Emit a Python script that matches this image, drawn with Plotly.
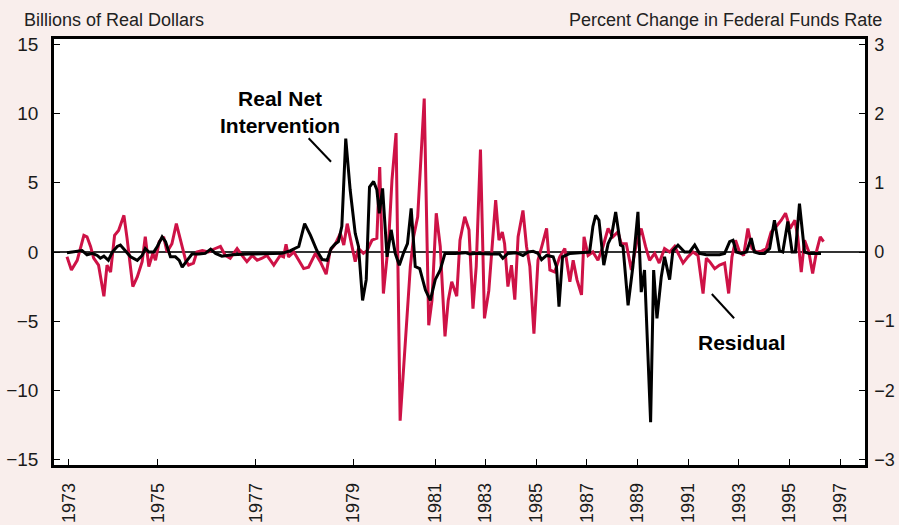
import numpy as np
import plotly.graph_objects as go

# ---------------- data ----------------
# Real Net Intervention (billions of real dollars), decimal year
int_year = [1972.96, 1973.30, 1973.41, 1973.53, 1973.64, 1973.71, 1973.79, 1973.89, 1973.98, 1974.09,
            1974.16, 1974.27, 1974.39, 1974.54, 1974.65, 1974.72, 1974.80, 1974.91, 1974.99, 1975.09,
            1975.16, 1975.26, 1975.36, 1975.44, 1975.50, 1975.60, 1975.70, 1975.84, 1975.97, 1976.08,
            1976.18, 1976.31, 1976.52, 1976.86, 1977.20, 1977.54, 1977.71, 1977.81, 1977.88, 1978.00,
            1978.12, 1978.25, 1978.36, 1978.46, 1978.54, 1978.63, 1978.69, 1978.76, 1978.84, 1978.93,
            1979.04, 1979.12, 1979.22, 1979.31, 1979.39, 1979.49, 1979.57, 1979.63, 1979.71, 1979.82,
            1979.92, 1980.02, 1980.12, 1980.22, 1980.32, 1980.41, 1980.51, 1980.62, 1980.76, 1980.88,
            1981.00, 1981.20, 1981.39, 1981.80, 1982.20, 1982.38, 1982.70, 1983.17, 1983.56, 1983.69,
            1983.89, 1984.22, 1984.48, 1984.68, 1984.88, 1985.07, 1985.21, 1985.41, 1985.67, 1985.80,
            1985.90, 1986.04, 1986.33, 1986.72, 1987.11, 1987.24, 1987.35, 1987.48, 1987.67, 1987.84,
            1987.97, 1988.14, 1988.33, 1988.43, 1988.63, 1988.82, 1989.02, 1989.15, 1989.28, 1989.52,
            1989.64, 1989.77, 1989.94, 1990.07, 1990.27, 1990.40, 1990.60, 1990.86, 1991.06, 1991.26,
            1991.45, 1991.72, 1991.98, 1992.24, 1992.44, 1992.64, 1992.77, 1992.90, 1993.10, 1993.30,
            1993.49, 1993.62, 1993.82, 1994.02, 1994.22, 1994.41, 1994.61, 1994.74, 1994.94, 1995.11,
            1995.24, 1995.40, 1995.60, 1995.79, 1996.25]
int_value = [-0.05, 0.1, -0.2, -0.1, -0.25, -0.45, -0.3, -0.6, 0.0, 0.4,
             0.5, 0.1, -0.35, -0.6, -0.25, 0.25, 0.0, 0.0, 0.4, 1.1,
             0.75, -0.35, -0.35, -0.6, -1.1, -0.6, -0.15, -0.15, -0.1, 0.2,
             -0.1, -0.3, -0.2, -0.15, -0.15, -0.1, 0.1, 0.25, 0.4, 2.05,
             1.2, 0.1, -0.55, -0.6, 0.25, 0.6, 0.75, 1.85, 8.2, 4.5,
             1.35, 0.4, -3.5, -2.0, 4.7, 5.1, 4.5, 2.8, 4.6, -0.35,
             1.6, -0.1, -0.95, -0.1, 0.6, 3.15, -1.05, -1.2, -2.75, -3.5,
             -2.0, -1.3, -0.1, -0.1, -0.05, -0.15, -0.1, -0.15, -0.15, -0.45,
             -0.1, -0.05, -0.25, 0.0, 0.05, -0.1, -0.55, -0.25, -0.35, -1.05,
             -3.95, -0.35, -0.1, -0.05, 0.0, 1.85, 2.65, 2.3, -0.95, 0.6,
             1.1, 2.9, 0.5, 0.4, -3.85, -1.05, 2.9, -2.9, -1.3, -12.3,
             -1.3, -4.8, -1.8, -0.35, -2.0, 0.1, 0.5, 0.0, 0.0, 0.5,
             -0.1, -0.2, -0.2, -0.2, -0.1, 0.75, 0.85, 0.0, -0.1, 0.0,
             1.0, 0.0, -0.1, -0.1, 0.25, 2.3, 0.1, 0.0, 2.2, 0.0,
             0.0, 3.5, 0.0, -0.1, -0.1]

# Residual (percent change in federal funds rate), decimal year
res_year = [1972.96, 1973.06, 1973.19, 1973.34, 1973.41, 1973.49, 1973.56, 1973.67, 1973.79, 1973.86,
            1973.94, 1974.03, 1974.12, 1974.24, 1974.31, 1974.44, 1974.54, 1974.65, 1974.72, 1974.80,
            1974.89, 1974.95, 1975.03, 1975.12, 1975.19, 1975.29, 1975.38, 1975.46, 1975.57, 1975.63,
            1975.73, 1975.80, 1975.91, 1976.04, 1976.14, 1976.28, 1976.38, 1976.48, 1976.62, 1976.72,
            1976.82, 1976.93, 1977.03, 1977.13, 1977.23, 1977.37, 1977.50, 1977.57, 1977.62, 1977.67,
            1977.78, 1977.88, 1977.98, 1978.08, 1978.22, 1978.32, 1978.44, 1978.52, 1978.63, 1978.73,
            1978.80, 1978.87, 1978.93, 1979.04, 1979.12, 1979.24, 1979.33, 1979.45, 1979.57, 1979.64,
            1979.73, 1979.86, 1979.94, 1980.04, 1980.14, 1980.27, 1980.39, 1980.47, 1980.57, 1980.73,
            1980.84, 1980.92, 1981.04, 1981.20, 1981.39, 1981.52, 1981.66, 1981.86, 1981.99, 1982.18,
            1982.35, 1982.51, 1982.64, 1982.81, 1982.97, 1983.14, 1983.41, 1983.54, 1983.67, 1983.76,
            1983.89, 1984.03, 1984.16, 1984.29, 1984.48, 1984.62, 1984.75, 1984.91, 1985.07, 1985.25,
            1985.41, 1985.54, 1985.73, 1985.93, 1986.13, 1986.20, 1986.33, 1986.46, 1986.61, 1986.79,
            1986.89, 1987.05, 1987.24, 1987.44, 1987.64, 1987.84, 1988.03, 1988.23, 1988.36, 1988.56,
            1988.76, 1988.96, 1989.15, 1989.32, 1989.48, 1989.68, 1989.86, 1990.07, 1990.27, 1990.47,
            1990.66, 1990.80, 1990.99, 1991.19, 1991.39, 1991.59, 1991.72, 1991.85, 1992.05, 1992.24,
            1992.44, 1992.60, 1992.73, 1992.87, 1993.03, 1993.19, 1993.36, 1993.52, 1993.69, 1993.89,
            1994.09, 1994.28, 1994.48, 1994.68, 1994.85, 1995.03, 1995.22, 1995.33, 1995.47, 1995.60,
            1995.77, 1995.92, 1996.08, 1996.22, 1996.35]
res_value = [-0.07, -0.26, -0.12, 0.24, 0.22, 0.08, -0.09, -0.19, -0.64, -0.19,
             -0.29, 0.24, 0.31, 0.53, 0.20, -0.50, -0.36, -0.14, 0.22, -0.21,
             -0.02, -0.12, 0.15, 0.22, 0.0, 0.12, 0.41, 0.17, -0.12, -0.19,
             -0.16, 0.0, 0.02, 0.0, 0.04, 0.08, -0.05, -0.09, 0.05, -0.05,
             -0.14, -0.05, -0.12, -0.09, -0.05, -0.19, -0.05, -0.07, 0.11, -0.07,
             0.0, -0.12, -0.24, -0.22, -0.02, -0.14, -0.32, 0.02, 0.12, 0.27,
             0.10, 0.41, 0.22, -0.14, 0.05, -0.02, 0.02, 0.17, 0.20, 1.23,
             -0.60, 0.17, 1.04, 1.72, -2.44, -1.28, -0.21, 0.22, 0.51, 2.22,
             -1.06, -0.70, 0.56, 0.08, -1.22, -0.70, -0.43, -0.64, 0.17, 0.51,
             0.32, -0.82, -0.21, 1.48, -0.96, -0.56, 0.75, 0.17, 0.29, 0.12,
             -0.50, -0.19, -0.69, 0.22, 0.60, 0.08, -0.21, -1.18, -0.12, 0.12,
             0.34, -0.26, -0.29, -0.07, 0.05, -0.12, -0.43, -0.12, -0.40, -0.62,
             0.22, -0.05, 0.0, -0.12, 0.08, 0.34, 0.22, 0.29, 0.12, 0.12,
             -0.26, 0.12, 0.34, 0.08, -0.12, -0.02, -0.16, 0.05, 0.0, 0.08,
             -0.05, -0.16, -0.07, 0.0, -0.05, -0.60, -0.09, -0.14, -0.24, -0.19,
             -0.16, -0.60, -0.07, 0.17, 0.0, -0.05, 0.34, 0.05, 0.0, 0.01,
             0.05, 0.29, 0.37, 0.46, 0.56, 0.34, 0.46, 0.22, -0.29, 0.17,
             0.0, -0.31, 0.02, 0.22, 0.15]

# x-axis: year labels and where the original chart puts them along the axis (fraction of width)
tick_years = [1973, 1975, 1977, 1979, 1981, 1983, 1985, 1987, 1989, 1991, 1993, 1995, 1997]
tick_frac = [0.0182, 0.1279, 0.2487, 0.3694, 0.4701, 0.5317, 0.5946, 0.6570, 0.7194,
             0.7819, 0.8444, 0.9067, 0.9692]

left_ticks = [-15, -10, -5, 0, 5, 10, 15]
right_ticks = [-3, -2, -1, 0, 1, 2, 3]


def year_to_axis(years):
    ty = np.array(tick_years, dtype=float)
    tf = np.array(tick_frac, dtype=float)
    y = np.asarray(years, dtype=float)
    out = np.interp(y, ty, tf)
    lo = y < ty[0]
    out[lo] = tf[0] + (y[lo] - ty[0]) * (tf[1] - tf[0]) / (ty[1] - ty[0])
    return out


def lab(v):
    return str(v).replace("-", "\u2212")


RED = "#CE1246"
PINK = "#F9EEEC"
FONT = "Liberation Sans, Arial, sans-serif"

fig = go.Figure()
fig.add_trace(go.Scatter(x=year_to_axis(res_year), y=res_value, mode="lines",
                         line=dict(color=RED, width=3), yaxis="y", name="Residual",
                         hoverinfo="skip"))
fig.add_trace(go.Scatter(x=year_to_axis(int_year), y=int_value, mode="lines",
                         line=dict(color="#000000", width=3), yaxis="y2",
                         name="Real Net Intervention", hoverinfo="skip"))

axis_common = dict(showline=True, linecolor="#000", linewidth=2.5, ticks="inside",
                   ticklen=6, tickwidth=1.2, tickcolor="#000", showgrid=False,
                   automargin=False,
                   tickfont=dict(family=FONT, size=19, color="#1a1a1a"))

fig.update_layout(
    width=899, height=525,
    paper_bgcolor=PINK, plot_bgcolor="#ffffff",
    margin=dict(l=54, r=34, t=39, b=60),
    showlegend=False,
    xaxis=dict(range=[0, 1], tickvals=tick_frac, ticktext=[str(y) for y in tick_years],
               tickangle=-90, mirror=True, zeroline=False, ticklabelstandoff=8,
               **{**axis_common, "tickfont": dict(family=FONT, size=18, color="#1a1a1a")}),
    yaxis=dict(side="right", range=[-3.08, 3.08], tickvals=right_ticks,
               ticktext=[lab(v) for v in right_ticks], zeroline=False,
               ticklabelstandoff=3,
               **{**axis_common, "tickfont": dict(family=FONT, size=18, color="#1a1a1a")}),
    yaxis2=dict(side="left", overlaying="y", range=[-15.4, 15.4], tickvals=left_ticks,
                ticktext=[lab(v) for v in left_ticks], zeroline=True,
                zerolinecolor="#333333", zerolinewidth=2, ticklabelstandoff=9,
                **axis_common),
    annotations=[
        dict(text="Billions of Real Dollars", xref="paper", yref="paper", x=-0.039, y=1.0,
             xanchor="left", yanchor="bottom", yshift=7, showarrow=False,
             font=dict(family=FONT, size=18, color="#222")),
        dict(text="Percent Change in Federal Funds Rate", xref="paper", yref="paper",
             x=1.024, y=1.0, xanchor="right", yanchor="bottom", yshift=7, showarrow=False,
             font=dict(family=FONT, size=18, color="#222")),
        dict(text="<b>Real Net<br>Intervention</b>", xref="paper", yref="paper",
             x=0.2791, y=0.8275, xanchor="center", yanchor="middle", showarrow=False,
             font=dict(family=FONT, size=21, color="#000")),
        dict(text="<b>Residual</b>", xref="paper", yref="paper", x=0.8478, y=0.2864,
             xanchor="center", yanchor="middle", showarrow=False,
             font=dict(family=FONT, size=21, color="#000")),
    ],
    shapes=[
        dict(type="line", xref="paper", yref="paper", x0=0.3140, y0=0.7669, x1=0.3416,
             y1=0.7120, line=dict(color="#000", width=2)),
        dict(type="line", xref="paper", yref="paper", x0=0.8111, y0=0.4014, x1=0.8386,
             y1=0.3444, line=dict(color="#000", width=2)),
    ],
)

fig.write_html("out.html", config={"displayModeBar": False},
               post_script="document.body.style.margin='0';document.body.style.padding='0';"
                           "document.body.style.overflow='hidden';")
